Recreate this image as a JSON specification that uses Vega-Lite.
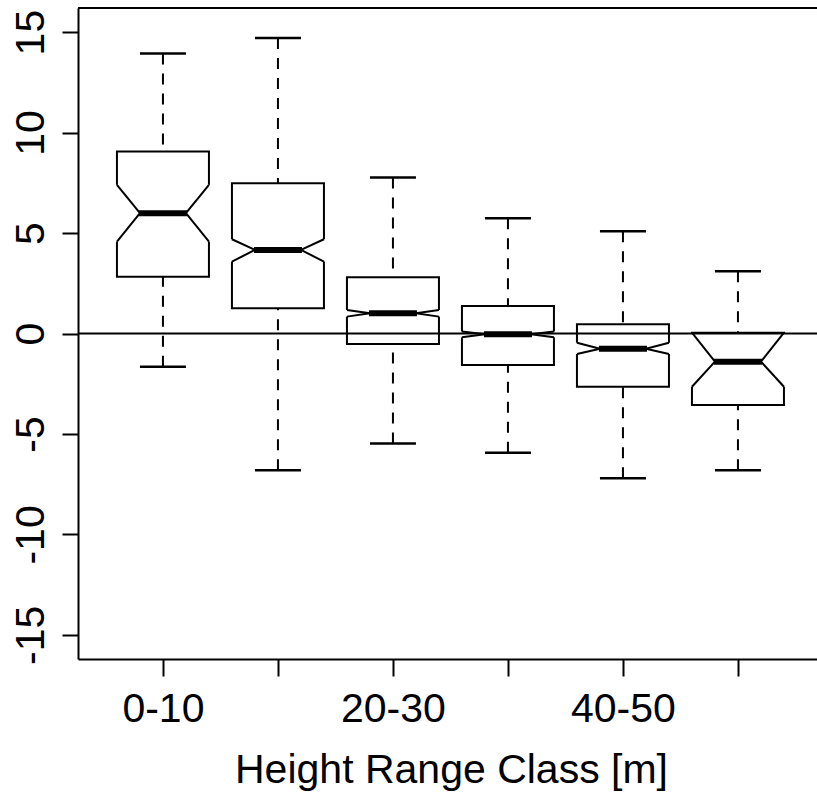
{
  "$schema": "https://vega.github.io/schema/vega-lite/v6.json",
  "width": 739,
  "height": 651,
  "autosize": {"type": "none"},
  "padding": {"left": 78, "top": 8, "right": 0, "bottom": 133},
  "background": "white",
  "datasets": {
    "boxes": [
      {"cls": "0-10", "wlo": -1.65, "q1": 2.83, "nlo": 4.57, "med": 5.99, "nhi": 7.40, "q3": 9.06, "whi": 13.93},
      {"cls": "10-20", "wlo": -6.80, "q1": 1.26, "nlo": 3.58, "med": 4.16, "nhi": 4.69, "q3": 7.48, "whi": 14.71},
      {"cls": "20-30", "wlo": -5.47, "q1": -0.52, "nlo": 0.84, "med": 1.01, "nhi": 1.17, "q3": 2.80, "whi": 7.76},
      {"cls": "30-40", "wlo": -5.94, "q1": -1.57, "nlo": -0.19, "med": -0.04, "nhi": 0.10, "q3": 1.37, "whi": 5.74},
      {"cls": "40-50", "wlo": -7.20, "q1": -2.65, "nlo": -1.02, "med": -0.76, "nhi": -0.46, "q3": 0.46, "whi": 5.09},
      {"cls": "50-60", "wlo": -6.80, "q1": -3.56, "nlo": -2.65, "med": -1.40, "nhi": 0.04, "q3": 0.04, "whi": 3.10}
    ]
  },
  "layer": [
    {
      "data": {"name": "boxes"},
      "encoding": {
        "x": {
          "field": "cls",
          "type": "ordinal",
          "sort": null,
          "scale": {"type": "point", "padding": 0.713, "align": 0.518},
          "axis": {
            "title": "Height Range Class [m]",
            "labelExpr": "indexof(['10-20','30-40','50-60'], datum.value) >= 0 ? '' : datum.label",
            "labelAngle": 0,
            "labelAlign": "center",
            "labelBaseline": "top",
            "tickSize": 17,
            "labelPadding": 13,
            "titleX": 373,
            "titleY": 123,
            "titleAlign": "center",
            "titleBaseline": "alphabetic",
            "labelOverlap": false
          }
        }
      },
      "layer": [
        {
          "mark": {"type": "rule", "color": "black", "strokeWidth": 2, "strokeDash": [11, 9]},
          "encoding": {
            "y": {"field": "whi", "type": "quantitative", "title": null, "scale": {"domain": [-16.2, 16.2], "nice": false, "zero": false},
                  "axis": {"values": [-15, -10, -5, 0, 5, 10, 15], "title": null, "labelExpr": "'' + datum.value", "labelAngle": 270, "labelAlign": "center", "labelBaseline": "alphabetic", "tickSize": 16, "labelPadding": 19}},
            "y2": {"field": "q3"}
          }
        },
        {
          "mark": {"type": "rule", "color": "black", "strokeWidth": 2, "strokeDash": [11, 9]},
          "encoding": {"y": {"field": "wlo", "type": "quantitative", "title": null}, "y2": {"field": "q1"}}
        },
        {
          "mark": {"type": "rule", "color": "black", "strokeWidth": 2.5, "xOffset": -23, "x2Offset": 23},
          "encoding": {"x2": {"field": "cls"}, "y": {"field": "whi", "type": "quantitative", "title": null}}
        },
        {
          "mark": {"type": "rule", "color": "black", "strokeWidth": 2.5, "xOffset": -23, "x2Offset": 23},
          "encoding": {"x2": {"field": "cls"}, "y": {"field": "wlo", "type": "quantitative", "title": null}}
        },
        {
          "mark": {"type": "rule", "color": "black", "strokeWidth": 2, "xOffset": -47, "x2Offset": 47},
          "encoding": {"x2": {"field": "cls"}, "y": {"field": "q3", "type": "quantitative", "title": null}}
        },
        {
          "mark": {"type": "rule", "color": "black", "strokeWidth": 2, "xOffset": -47, "x2Offset": 47},
          "encoding": {"x2": {"field": "cls"}, "y": {"field": "q1", "type": "quantitative", "title": null}}
        },
        {
          "mark": {"type": "rule", "color": "black", "strokeWidth": 2, "xOffset": -46},
          "encoding": {"y": {"field": "q1", "type": "quantitative", "title": null}, "y2": {"field": "nlo"}}
        },
        {
          "mark": {"type": "rule", "color": "black", "strokeWidth": 2, "xOffset": -46},
          "encoding": {"y": {"field": "nhi", "type": "quantitative", "title": null}, "y2": {"field": "q3"}}
        },
        {
          "mark": {"type": "rule", "color": "black", "strokeWidth": 2, "xOffset": 46},
          "encoding": {"y": {"field": "q1", "type": "quantitative", "title": null}, "y2": {"field": "nlo"}}
        },
        {
          "mark": {"type": "rule", "color": "black", "strokeWidth": 2, "xOffset": 46},
          "encoding": {"y": {"field": "nhi", "type": "quantitative", "title": null}, "y2": {"field": "q3"}}
        },
        {
          "mark": {"type": "rule", "color": "black", "strokeWidth": 2, "xOffset": -46, "x2Offset": -23},
          "encoding": {"x2": {"field": "cls"}, "y": {"field": "nlo", "type": "quantitative", "title": null}, "y2": {"field": "med"}}
        },
        {
          "mark": {"type": "rule", "color": "black", "strokeWidth": 2, "xOffset": -46, "x2Offset": -23},
          "encoding": {"x2": {"field": "cls"}, "y": {"field": "nhi", "type": "quantitative", "title": null}, "y2": {"field": "med"}}
        },
        {
          "mark": {"type": "rule", "color": "black", "strokeWidth": 2, "xOffset": 46, "x2Offset": 23},
          "encoding": {"x2": {"field": "cls"}, "y": {"field": "nlo", "type": "quantitative", "title": null}, "y2": {"field": "med"}}
        },
        {
          "mark": {"type": "rule", "color": "black", "strokeWidth": 2, "xOffset": 46, "x2Offset": 23},
          "encoding": {"x2": {"field": "cls"}, "y": {"field": "nhi", "type": "quantitative", "title": null}, "y2": {"field": "med"}}
        },
        {
          "mark": {"type": "rule", "color": "black", "strokeWidth": 6, "xOffset": -24, "x2Offset": 24},
          "encoding": {"x2": {"field": "cls"}, "y": {"field": "med", "type": "quantitative", "title": null}}
        }
      ]
    },
    {
      "data": {"values": [{}]},
      "mark": {"type": "rule", "color": "black", "strokeWidth": 2},
      "encoding": {"y": {"datum": 0, "type": "quantitative", "title": null}}
    },
    {
      "data": {"values": [{}]},
      "mark": {"type": "rule", "color": "black", "strokeWidth": 2},
      "encoding": {"y": {"datum": 16.2, "type": "quantitative", "title": null}}
    }
  ],
  "config": {
    "view": {"stroke": null},
    "font": "Liberation Sans",
    "axis": {
      "domainColor": "black",
      "domainWidth": 2,
      "tickColor": "black",
      "tickWidth": 2,
      "labelColor": "black",
      "labelFont": "Liberation Sans",
      "labelFontSize": 41,
      "titleFont": "Liberation Sans",
      "titleFontSize": 41,
      "titleFontWeight": "normal",
      "titleColor": "black",
      "grid": false
    }
  }
}
